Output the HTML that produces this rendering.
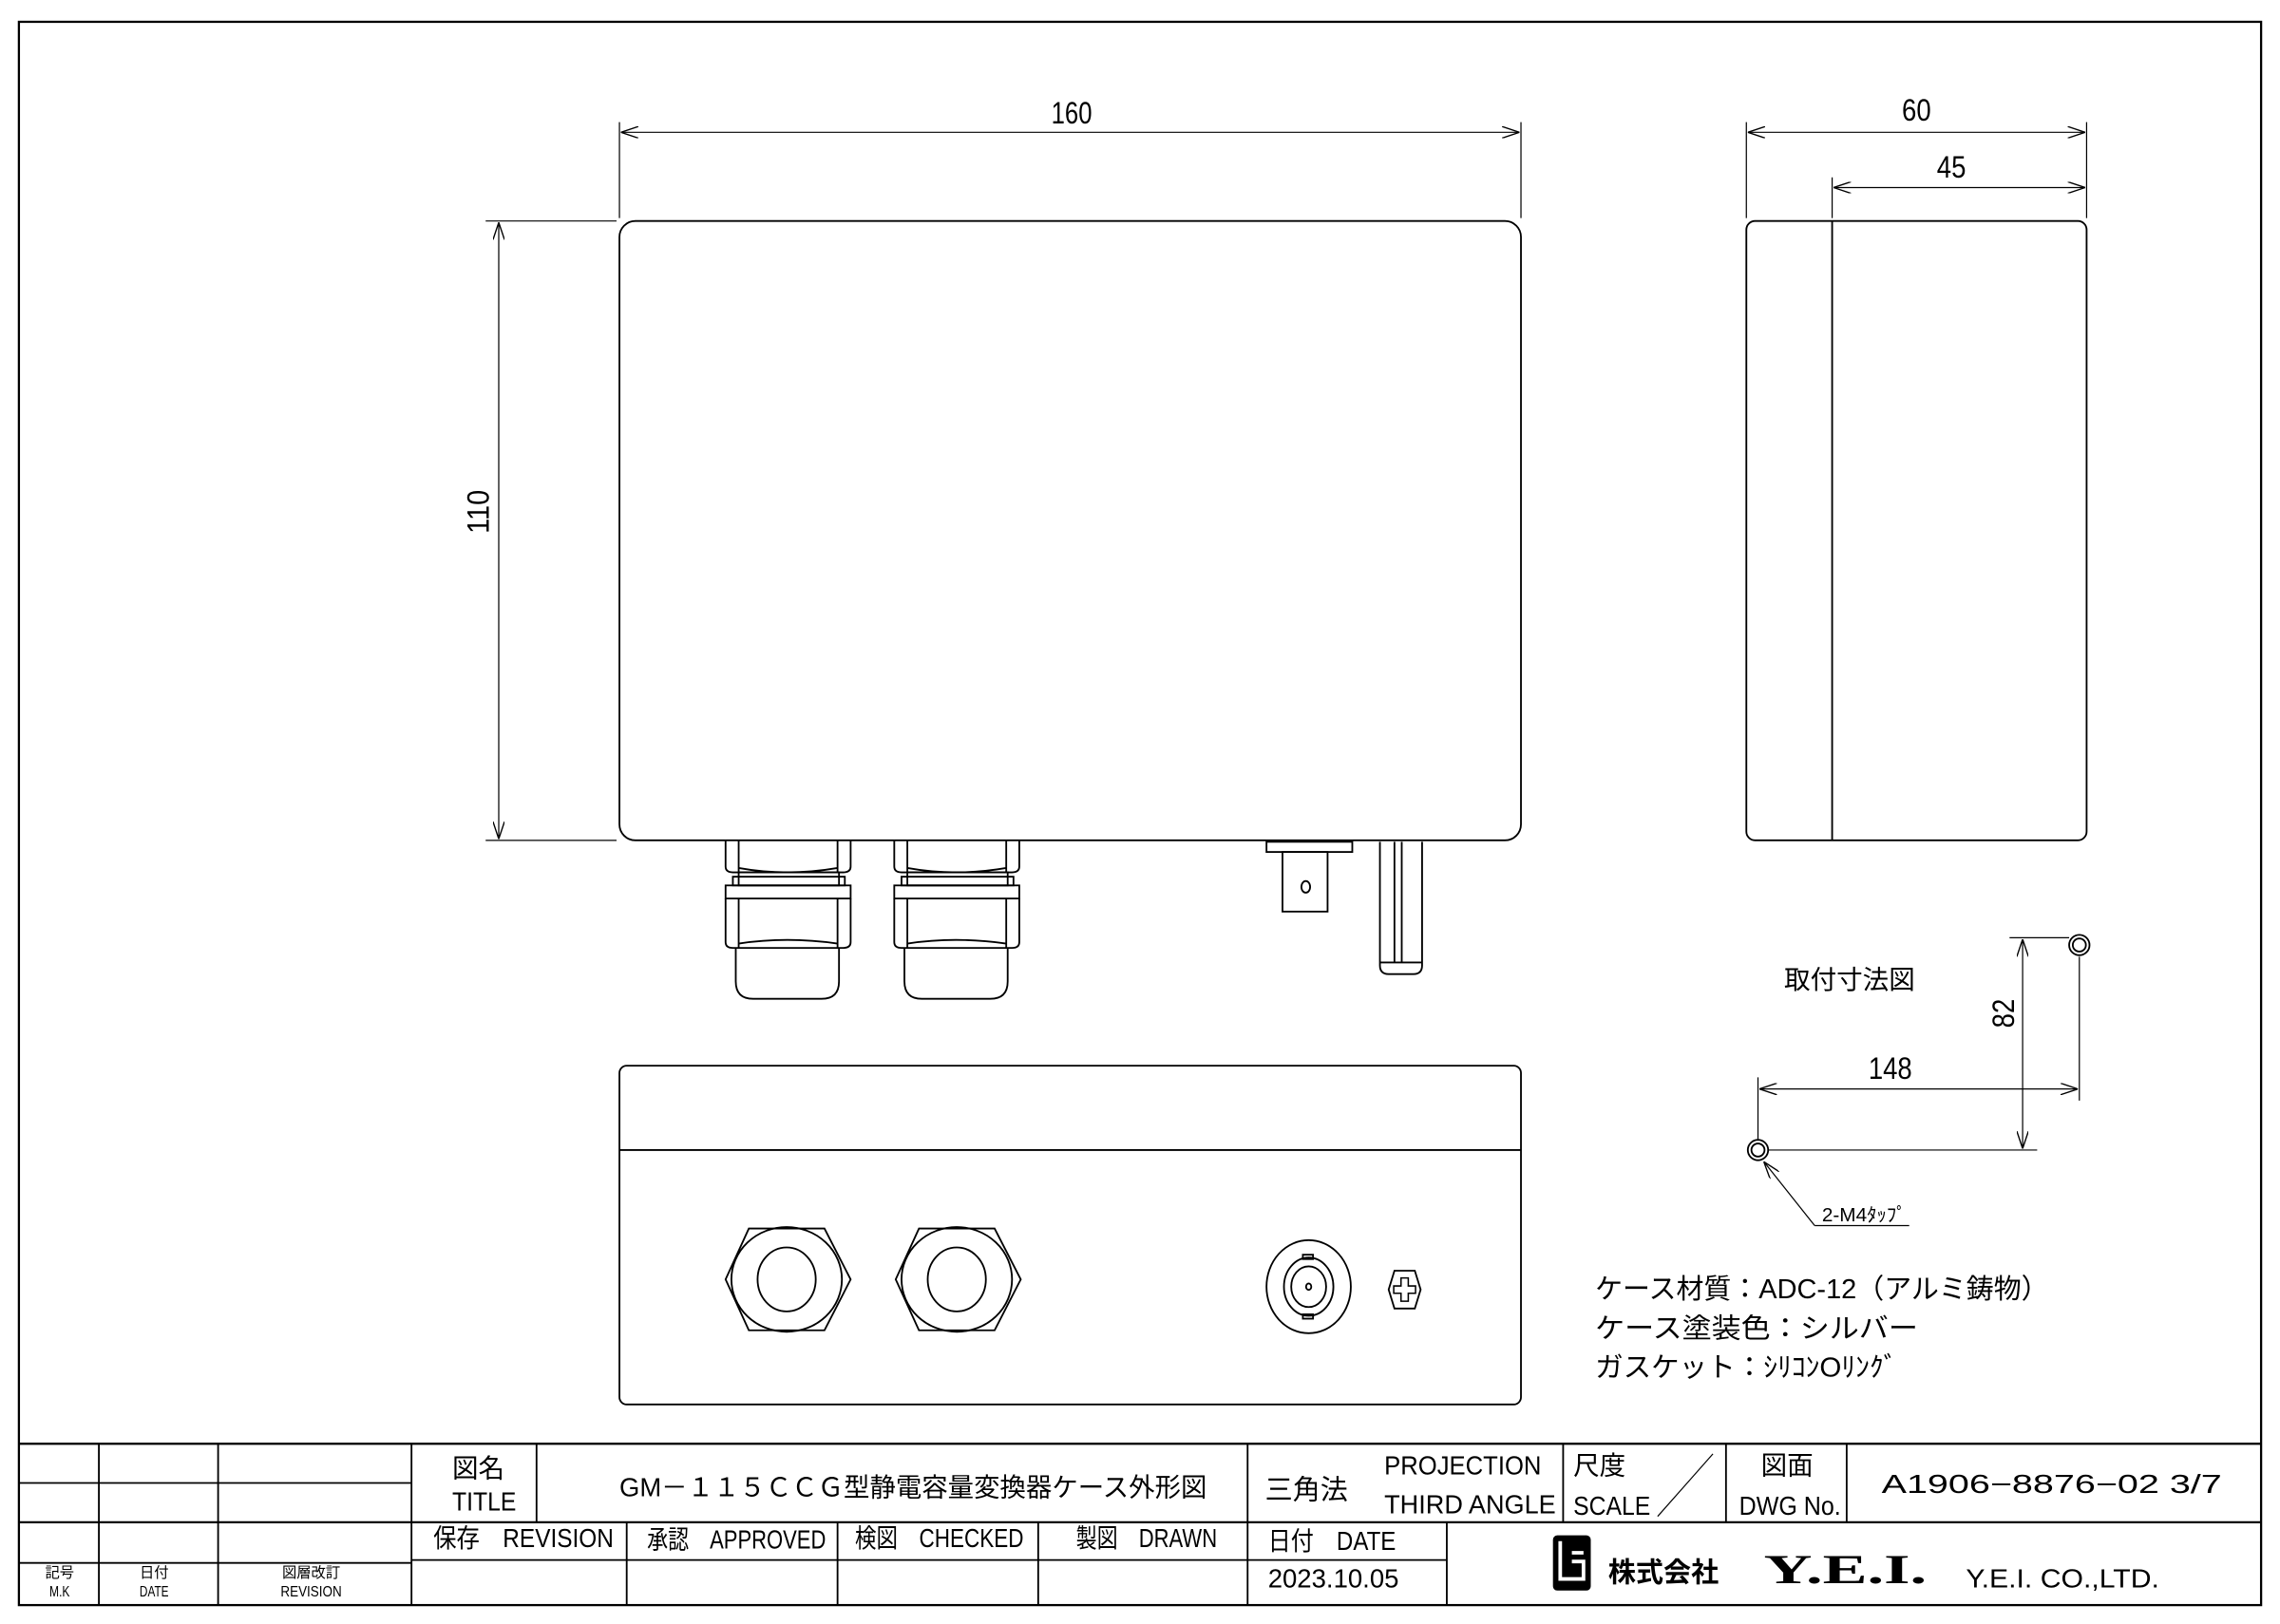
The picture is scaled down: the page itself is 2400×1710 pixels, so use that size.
<!DOCTYPE html>
<html><head><meta charset="utf-8"><style>
html,body{margin:0;padding:0;background:#fff;}
svg{display:block;}
text{font-family:"Liberation Sans","Noto Sans CJK JP",sans-serif;fill:#000;}
</style></head><body>
<svg width="2400" height="1710" viewBox="0 0 1568 1117" preserveAspectRatio="none" xmlns="http://www.w3.org/2000/svg">
<defs>
<marker id="a" viewBox="0 0 12 8" refX="12" refY="4" markerWidth="12" markerHeight="8" markerUnits="userSpaceOnUse" orient="auto-start-reverse"><path d="M0,0 L12,4 L0,8" fill="none" stroke="#000" stroke-width="0.9"/></marker>
</defs>
<g fill="none" stroke="#000" stroke-width="1.2">
<rect x="13" y="15" width="1542" height="1089" stroke-width="1.5"/>
<rect x="426" y="152" width="620" height="426" rx="11"/>
<g stroke-width="0.8">
<line x1="426" y1="84" x2="426" y2="150"/><line x1="1046" y1="84" x2="1046" y2="150"/>
<line x1="427" y1="91" x2="1045" y2="91" marker-start="url(#a)" marker-end="url(#a)"/>
<line x1="334" y1="152" x2="424" y2="152"/><line x1="334" y1="578" x2="424" y2="578"/>
<line x1="343" y1="153" x2="343" y2="577" marker-start="url(#a)" marker-end="url(#a)"/>
<line x1="1201" y1="84" x2="1201" y2="150"/><line x1="1435" y1="84" x2="1435" y2="150"/><line x1="1260" y1="122" x2="1260" y2="150"/>
<line x1="1202" y1="91" x2="1434" y2="91" marker-start="url(#a)" marker-end="url(#a)"/>
<line x1="1261" y1="129" x2="1434" y2="129" marker-start="url(#a)" marker-end="url(#a)"/>
</g>
<rect x="1201" y="152" width="234" height="426" rx="6"/>
<line x1="1260" y1="152" x2="1260" y2="578"/>
<g id="g1">
<path d="M499,578 V596 Q499,600 504,600 H580 Q585,600 585,596 V578"/>
<line x1="508" y1="578" x2="508" y2="600"/><line x1="576" y1="578" x2="576" y2="600"/>
<path d="M508,597 Q541,603 576,597"/>
<rect x="508" y="600" width="69" height="9"/>
<rect x="504" y="603" width="77" height="6"/>
<rect x="499" y="609" width="86" height="9"/>
<path d="M499,618 V648 Q499,652 504,652 H580 Q585,652 585,648 V618"/>
<line x1="508" y1="618" x2="508" y2="652"/><line x1="576" y1="618" x2="576" y2="652"/>
<path d="M508,649 Q541,644 576,649"/>
<path d="M506,652 V675 Q506,687 518,687 H565 Q577,687 577,675 V652"/>
</g>
<use href="#g1" x="116"/>
<rect x="871" y="579" width="59" height="7"/>
<rect x="882" y="586" width="31" height="41"/>
<ellipse cx="898" cy="610" rx="3" ry="4"/>
<path d="M949,579 V664 Q949,670 955,670 H972 Q978,670 978,664 V579"/>
<line x1="959" y1="579" x2="959" y2="662"/><line x1="964" y1="579" x2="964" y2="662"/>
<line x1="949" y1="662" x2="978" y2="662"/>
<rect x="426" y="733" width="620" height="233" rx="5"/>
<line x1="426" y1="791" x2="1046" y2="791"/>
<g id="h1">
<polygon points="499,880 515,845 567,845 585,880 567,915 515,915"/>
<ellipse cx="541" cy="880" rx="38" ry="36"/>
<ellipse cx="541" cy="880" rx="20" ry="22"/>
</g>
<use href="#h1" x="117"/>
<ellipse cx="900" cy="885" rx="29" ry="32"/>
<ellipse cx="900" cy="885" rx="17" ry="20"/>
<ellipse cx="900" cy="885" rx="12" ry="14"/>
<ellipse cx="900" cy="885" rx="1.8" ry="2.2"/>
<rect x="896" y="863" width="7" height="3"/><rect x="896" y="904" width="7" height="3"/>
<polygon points="955,887 959,874 973,874 977,887 973,900 959,900"/>
<path d="M963.5,879 h5 v5.5 h5 v5 h-5 v5.5 h-5 v-5.5 h-5 v-5 h5 z" stroke-width="1"/>
<circle cx="1430" cy="650" r="7"/><circle cx="1430" cy="650" r="4.5"/>
<circle cx="1209" cy="791" r="7"/><circle cx="1209" cy="791" r="4.5"/>
<g stroke-width="0.8">
<line x1="1382" y1="645" x2="1423" y2="645"/>
<line x1="1216" y1="791" x2="1401" y2="791"/>
<line x1="1391" y1="646" x2="1391" y2="790" marker-start="url(#a)" marker-end="url(#a)"/>
<line x1="1209" y1="741" x2="1209" y2="784"/>
<line x1="1430" y1="658" x2="1430" y2="757"/>
<line x1="1210" y1="749" x2="1429" y2="749" marker-start="url(#a)" marker-end="url(#a)"/>
<line x1="1248" y1="843" x2="1213" y2="799" marker-end="url(#a)"/>
<line x1="1248" y1="843" x2="1313" y2="843"/>
</g>
<line x1="13" y1="993" x2="1555" y2="993" stroke-width="1.5"/>
<line x1="13" y1="1047" x2="1555" y2="1047" stroke-width="1.5"/>
<line x1="13" y1="1020" x2="283" y2="1020"/>
<line x1="13" y1="1075" x2="283" y2="1075"/>
<line x1="283" y1="1073" x2="858" y2="1073"/>
<line x1="858" y1="1073" x2="995" y2="1073"/>
<line x1="68" y1="993" x2="68" y2="1104"/>
<line x1="150" y1="993" x2="150" y2="1104"/>
<line x1="283" y1="993" x2="283" y2="1104"/>
<line x1="369" y1="993" x2="369" y2="1047"/>
<line x1="431" y1="1047" x2="431" y2="1104"/>
<line x1="576" y1="1047" x2="576" y2="1104"/>
<line x1="714" y1="1047" x2="714" y2="1104"/>
<line x1="858" y1="993" x2="858" y2="1104"/>
<line x1="1075" y1="993" x2="1075" y2="1047"/>
<line x1="1187" y1="993" x2="1187" y2="1047"/>
<line x1="1270" y1="993" x2="1270" y2="1047"/>
<line x1="995" y1="1047" x2="995" y2="1104"/>
<line x1="1140" y1="1043" x2="1178" y2="1000" stroke-width="0.8"/>
</g>
<g font-size="21">
<text x="737" y="85" text-anchor="middle" textLength="28" lengthAdjust="spacingAndGlyphs">160</text>
<text transform="translate(336,352) rotate(-90)" text-anchor="middle" textLength="30" lengthAdjust="spacingAndGlyphs">110</text>
<text x="1318" y="83" text-anchor="middle" textLength="20" lengthAdjust="spacingAndGlyphs">60</text>
<text x="1342" y="122" text-anchor="middle" textLength="20" lengthAdjust="spacingAndGlyphs">45</text>
<text x="1300" y="742" text-anchor="middle" textLength="30" lengthAdjust="spacingAndGlyphs">148</text>
<text transform="translate(1385,697) rotate(-90)" text-anchor="middle" textLength="20" lengthAdjust="spacingAndGlyphs">82</text>
</g>
<text x="1227" y="680" font-size="18">取付寸法図</text>
<text x="1253" y="840" font-size="13" textLength="58" lengthAdjust="spacingAndGlyphs">2-M4ﾀｯﾌﾟ</text>
<text x="1097" y="893" font-size="19" textLength="312" lengthAdjust="spacingAndGlyphs">ケース材質：ADC-12（アルミ鋳物）</text>
<text x="1097" y="920" font-size="19" textLength="222" lengthAdjust="spacingAndGlyphs">ケース塗装色：シルバー</text>
<text x="1097" y="947" font-size="19" textLength="208" lengthAdjust="spacingAndGlyphs">ガスケット：ｼﾘｺﾝOﾘﾝｸﾞ</text>
<g font-size="10">
<text x="41" y="1085" text-anchor="middle">記号</text><text x="41" y="1098" text-anchor="middle" textLength="14" lengthAdjust="spacingAndGlyphs">M.K</text>
<text x="106" y="1085" text-anchor="middle">日付</text><text x="106" y="1098" text-anchor="middle" textLength="20" lengthAdjust="spacingAndGlyphs">DATE</text>
<text x="214" y="1085" text-anchor="middle">図層改訂</text><text x="214" y="1098" text-anchor="middle" textLength="42" lengthAdjust="spacingAndGlyphs">REVISION</text>
</g>
<g font-size="18">
<text x="329" y="1016" text-anchor="middle">図名</text>
<text x="333" y="1039" text-anchor="middle" textLength="44" lengthAdjust="spacingAndGlyphs">TITLE</text>
<text x="628" y="1029" text-anchor="middle" textLength="404" lengthAdjust="spacingAndGlyphs">GM－１１５ＣＣＧ型静電容量変換器ケース外形図</text>
<text x="298" y="1064" textLength="124" lengthAdjust="spacingAndGlyphs">保存　REVISION</text>
<text x="445" y="1065" textLength="123" lengthAdjust="spacingAndGlyphs">承認　APPROVED</text>
<text x="588" y="1064" textLength="116" lengthAdjust="spacingAndGlyphs">検図　CHECKED</text>
<text x="740" y="1064" textLength="97" lengthAdjust="spacingAndGlyphs">製図　DRAWN</text>
<text x="870" y="1031" font-size="19">三角法</text>
<text x="952" y="1014" textLength="108" lengthAdjust="spacingAndGlyphs">PROJECTION</text>
<text x="952" y="1041" textLength="118" lengthAdjust="spacingAndGlyphs">THIRD ANGLE</text>
<text x="1082" y="1014">尺度</text>
<text x="1082" y="1042" textLength="53" lengthAdjust="spacingAndGlyphs">SCALE</text>
<text x="1229" y="1014" text-anchor="middle">図面</text>
<text x="1231" y="1042" text-anchor="middle" textLength="70" lengthAdjust="spacingAndGlyphs">DWG No.</text>
<text x="1294" y="1027" textLength="234" lengthAdjust="spacingAndGlyphs">A1906−8876−02 3/7</text>
<text x="872" y="1066" textLength="88" lengthAdjust="spacingAndGlyphs">日付　DATE</text>
<text x="872" y="1092" textLength="90" lengthAdjust="spacingAndGlyphs">2023.10.05</text>
<text x="1352" y="1092" textLength="133" lengthAdjust="spacingAndGlyphs">Y.E.I. CO.,LTD.</text>
</g>
<rect x="1068" y="1056" width="26" height="38" rx="3" fill="#000"/>
<path d="M1073,1060 v26 h16 v-12 h-8 M1081,1068 h8" fill="none" stroke="#fff" stroke-width="2.5"/>
<text x="1106" y="1088" font-size="19" font-weight="bold">株式会社</text>
<text x="1213" y="1089" font-size="28" font-weight="bold" style="font-family:'Liberation Serif',serif" textLength="112" lengthAdjust="spacingAndGlyphs">Y.E.I.</text>
</svg>
</body></html>
